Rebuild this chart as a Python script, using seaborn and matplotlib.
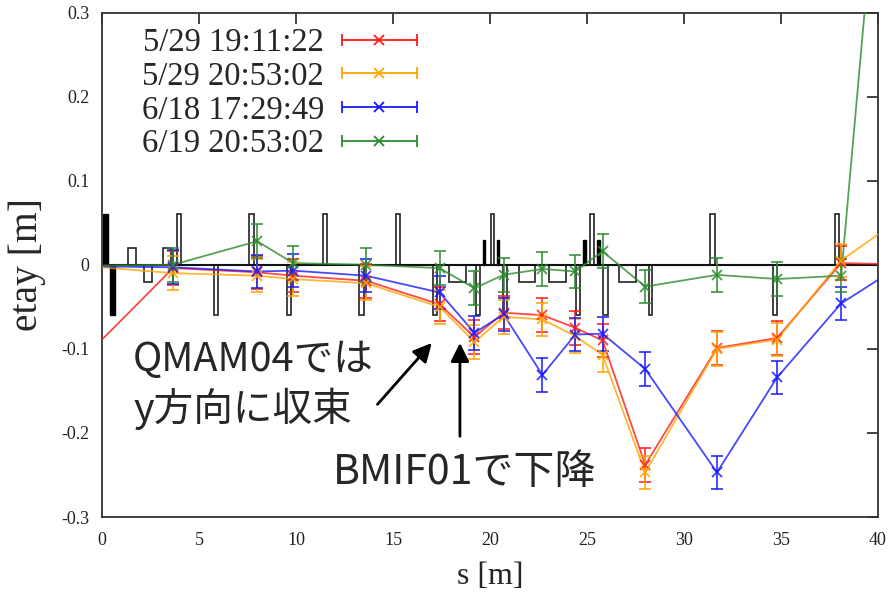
import numpy as np
import pandas as pd
import matplotlib
matplotlib.use("Agg")
import matplotlib.pyplot as plt
import seaborn as sns
from matplotlib.lines import Line2D
from matplotlib.legend_handler import HandlerTuple, HandlerLine2D

# ---- data ----
s_pos = [0.0, 3.66, 8.0, 9.85, 13.6, 17.4, 19.2, 20.7, 22.7, 24.4, 25.8, 28.0, 31.7, 34.8, 38.1, 40.0]
etay_0529a = [-0.089, -0.004, -0.009, -0.013, -0.019, -0.047, -0.086, -0.057, -0.060, -0.075, -0.090, -0.238, -0.099, -0.087, 0.002, 0.001]
etay_0529b = [-0.003, -0.010, -0.013, -0.017, -0.022, -0.050, -0.092, -0.062, -0.065, -0.085, -0.107, -0.247, -0.100, -0.089, 0.005, 0.036]
etay_0618 = [-0.002, -0.003, -0.008, -0.007, -0.013, -0.033, -0.081, -0.059, -0.131, -0.083, -0.082, -0.124, -0.247, -0.134, -0.046, -0.018]
etay_0619 = [-0.001, 0.000, 0.028, 0.002, 0.000, -0.004, -0.028, -0.012, -0.005, -0.008, 0.016, -0.026, -0.012, -0.017, -0.013, 0.48]
yerr = 0.02
labels = ["5/29 19:11:22", "5/29 20:53:02", "6/18 17:29:49", "6/19 20:53:02"]
colors = ["#ff1a1a", "#ffa500", "#1a1aff", "#2e8b2e"]

# magnet lattice: (start s, end s, height)
mag_open_start = [1.32, 2.18, 3.13, 3.88, 5.77, 7.59, 9.55, 11.40, 13.27, 15.17, 17.05, 17.89, 19.28, 20.03, 20.69, 21.50, 23.06, 24.43, 25.15, 25.84, 26.63, 28.20, 31.34, 34.60, 37.77]
mag_open_end = [1.73, 2.59, 3.54, 4.07, 6.00, 7.85, 9.72, 11.60, 13.50, 15.36, 17.28, 18.74, 19.48, 20.22, 20.90, 22.30, 23.90, 24.64, 25.38, 26.07, 27.50, 28.36, 31.58, 34.80, 38.00]
mag_open_h = [0.02, -0.02, 0.02, 0.06, -0.06, 0.06, -0.06, 0.06, -0.06, 0.06, -0.06, -0.02, -0.06, 0.06, -0.06, -0.02, -0.02, -0.06, 0.06, -0.06, -0.02, -0.06, 0.06, -0.06, 0.06]
mag_fill_start = [0.05, 0.41, 19.66, 20.34, 24.80, 25.49]
mag_fill_end = [0.30, 0.67, 19.76, 20.46, 24.93, 25.65]
mag_fill_h = [0.06, -0.06, 0.03, 0.03, 0.03, 0.03]

xticks = [0, 5, 10, 15, 20, 25, 30, 35, 40]
yticks = [-0.3, -0.2, -0.1, 0, 0.1, 0.2, 0.3]
ytick_labels = ["-0.3", "-0.2", "-0.1", "0", "0.1", "0.2", "0.3"]

# ---- style ----
sns.set_theme(style="white")
plt.rcParams["font.family"] = ["Liberation Serif", "DejaVu Serif"]

fig = plt.figure(figsize=(8.89, 5.93), dpi=100)
ax = fig.add_axes([102 / 889, 76 / 593, 776 / 889, 504.5 / 593])

# lattice
for s0, s1, h in zip(mag_open_start, mag_open_end, mag_open_h):
    ax.bar(s0, h, width=s1 - s0, align="edge", bottom=0, fill=False,
           edgecolor="#222222", linewidth=1.2, zorder=2)
for s0, s1, h in zip(mag_fill_start, mag_fill_end, mag_fill_h):
    ax.bar(s0, h, width=s1 - s0, align="edge", bottom=0, color="black",
           edgecolor="black", linewidth=1.0, zorder=2)
ax.axhline(0, color="#111111", lw=1.5, zorder=2)

series = [etay_0529a, etay_0529b, etay_0618, etay_0619]
df = pd.concat([pd.DataFrame({"s": s_pos, "etay": v, "run": lab})
                for v, lab in zip(series, labels)], ignore_index=True)
sns.lineplot(data=df, x="s", y="etay", hue="run", palette=dict(zip(labels, colors)),
             sort=False, estimator=None, legend=False, lw=1.3, alpha=0.8, ax=ax, zorder=3)
for v, c in zip(series, colors):
    ax.errorbar(s_pos[1:-1], v[1:-1], yerr=yerr, fmt="x", color=c, ms=7.5, mew=1.3,
                capsize=4, elinewidth=1.3, capthick=1.3, alpha=0.85, zorder=4)

ax.set_xlim(0, 40)
ax.set_ylim(-0.3, 0.3)
ax.set_xticks(xticks)
ax.set_yticks(yticks)
ax.set_yticklabels(ytick_labels)
ax.tick_params(direction="in", length=8, width=1.2, top=True, right=True,
               labelsize=13, colors="#222222", pad=9)
ax.tick_params(axis="x", pad=11)
for sp in ax.spines.values():
    sp.set_color("#333333")
    sp.set_linewidth(1.3)
ax.set_xlabel("s [m]", fontsize=23, labelpad=9)
ax.set_ylabel("etay [m]", fontsize=28.5, labelpad=11)
ax.grid(False)

# legend (gnuplot style: label then key)
handles = []
hmap = {}
for c in colors:
    cap = Line2D([], [], color=c, marker="|", ms=9, mew=1.3, lw=1.3)
    cross = Line2D([], [], color=c, marker="x", ls="none", ms=7, mew=1.3)
    hmap[cap] = HandlerLine2D(numpoints=2, marker_pad=0)
    hmap[cross] = HandlerLine2D(numpoints=1)
    handles.append((cap, cross))
hmap[tuple] = HandlerTuple(ndivide=1, pad=0)
ax.legend(handles, labels, handler_map=hmap, loc="upper left", bbox_to_anchor=(0.051, 0.97),
          frameon=False, markerfirst=False, prop={"family": "Liberation Serif", "size": 23.5},
          handlelength=2.3, handletextpad=0.55, labelspacing=0.1, borderpad=0, borderaxespad=0)

# annotations
jp = ["Noto Sans CJK JP", "DejaVu Sans"]
ax.text(1.6, -0.113, "QMAM04では", family=jp, fontsize=28.5, va="center", ha="left", zorder=5)
ax.text(1.6, -0.171, "y方向に収束", family=jp, fontsize=28.5, va="center", ha="left", zorder=5)
ax.text(11.9, -0.247, "BMIF01で下降", family=jp, fontsize=29.5, va="center", ha="left", zorder=5)
arrow = dict(arrowstyle="-|>", color="black", lw=2, mutation_scale=28, shrinkA=0, shrinkB=0)
ax.annotate("", xy=(17.0, -0.093), xytext=(14.2, -0.166), arrowprops=arrow, zorder=5)
ax.annotate("", xy=(18.45, -0.093), xytext=(18.45, -0.204), arrowprops=arrow, zorder=5)

fig.savefig("out.png", dpi=100)
